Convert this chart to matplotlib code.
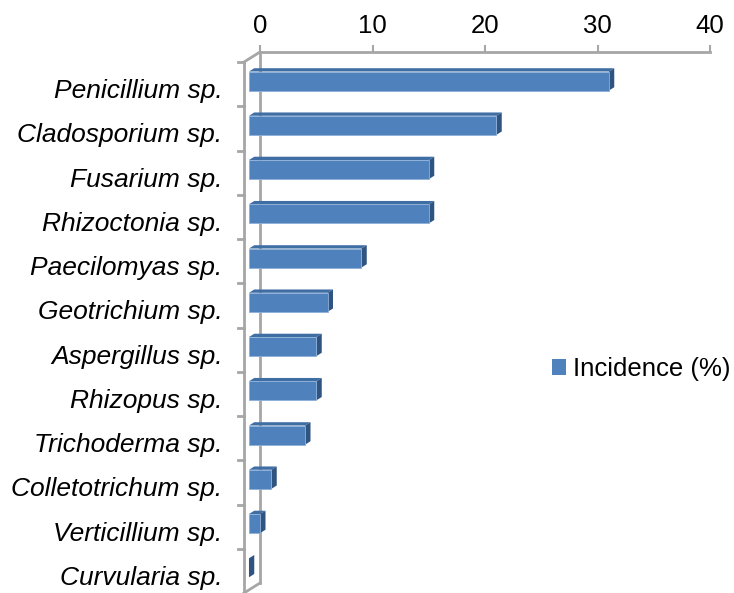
import matplotlib
matplotlib.use("Agg")
import matplotlib.pyplot as plt
from matplotlib.patches import Polygon, Patch

categories = ["Penicillium sp.", "Cladosporium sp.", "Fusarium sp.", "Rhizoctonia sp.",
              "Paecilomyas sp.", "Geotrichium sp.", "Aspergillus sp.", "Rhizopus sp.",
              "Trichoderma sp.", "Colletotrichum sp.", "Verticillium sp.", "Curvularia sp."]
incidence = [32, 22, 16, 16, 10, 7, 6, 6, 5, 2, 1, 0]
x_ticks = [0, 10, 20, 30, 40]

plt.rcParams['font.family'] = ['Liberation Sans', 'DejaVu Sans']

fig = plt.figure(figsize=(7.34, 5.93), dpi=100)
# axes = back wall of the 3D box
ax = fig.add_axes([260 / 734, 10 / 593, 450 / 734, 531 / 593])
ax.set_xlim(0, 40)
ax.set_ylim(len(categories), 0)

# fake depth: shift of the front plane in data units
DX, DY = -1.42, 0.226
grey = "#a6a6a6"


def pt(x, y, d):
    return (x + DX * d, y + DY * d)


# floor front edge, diagonals, category ticks
n = len(categories)
ax.plot([DX, DX], [DY, n + DY], color=grey, lw=2, clip_on=False)
ax.plot([0, DX], [0, DY], color=grey, lw=2, clip_on=False)
ax.plot([0, DX], [n, n + DY], color=grey, lw=2, clip_on=False)
for k in range(n):
    ax.plot([DX, DX - 0.55], [k + DY, k + DY], color=grey, lw=2, clip_on=False)

# bars
d_front, d_back = 0.69, 0.36
h = 0.43
for i, v in enumerate(incidence):
    y0 = i + 0.5 - h / 2
    y1 = i + 0.5 + h / 2
    top = Polygon([pt(0, y0, d_front), pt(v, y0, d_front), pt(v, y0, d_back), pt(0, y0, d_back)],
                  closed=True, facecolor="#3f6ea5", edgecolor="none", clip_on=False, zorder=3)
    side = Polygon([pt(v, y0, d_front), pt(v, y1, d_front), pt(v, y1, d_back), pt(v, y0, d_back)],
                   closed=True, facecolor="#2f5482", edgecolor="none", clip_on=False, zorder=3)
    ax.add_patch(top)
    ax.add_patch(side)
    if v > 0:
        front = Polygon([pt(0, y0, d_front), pt(v, y0, d_front), pt(v, y1, d_front), pt(0, y1, d_front)],
                        closed=True, facecolor="#4f81bd", edgecolor="#8eb0d8", lw=0.6,
                        clip_on=False, zorder=4)
        ax.add_patch(front)

# axes styling
for s in ["right", "bottom"]:
    ax.spines[s].set_visible(False)
ax.spines["top"].set_color(grey)
ax.spines["top"].set_linewidth(2)
ax.spines["left"].set_color(grey)
ax.spines["left"].set_linewidth(2)
ax.xaxis.tick_top()
ax.set_xticks(x_ticks)
ax.tick_params(axis="x", length=5, width=1.5, color=grey, labelsize=18.5, pad=5)

label_y = [i + 0.5 + DY + 0.1 for i in range(n)]
ax.set_yticks(label_y)
ax.set_yticklabels(categories, fontsize=19, fontstyle="italic")
ax.tick_params(axis="y", length=0, pad=27)

handle = Patch(facecolor="#4f81bd", edgecolor="none")
fig.legend([handle], ["Incidence (%)"], loc="center left", bbox_to_anchor=(534 / 734, 1 - 369 / 593),
           frameon=False, fontsize=18.5, handlelength=0.55, handleheight=0.55, handletextpad=0.25,
           borderpad=0.2)

fig.savefig("out.png", dpi=100)
